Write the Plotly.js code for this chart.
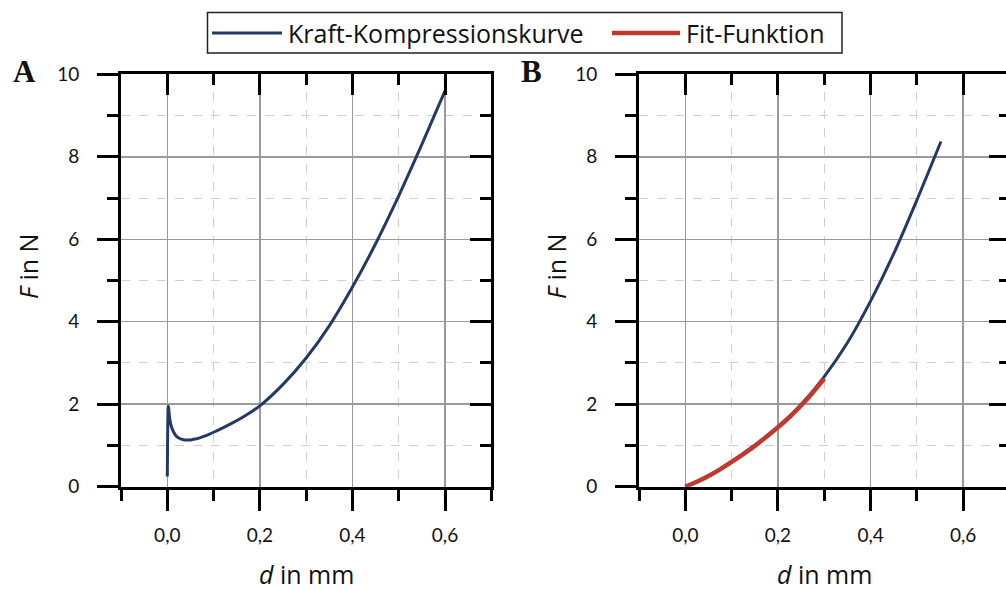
<!DOCTYPE html>
<html>
<head>
<meta charset="utf-8">
<script src="https://cdn.plot.ly/plotly-3.0.1.min.js"></script>
<style>
html,body{margin:0;padding:0;overflow:hidden;background:#fff;}
#chart{width:1010px;height:590px;}
</style>
</head>
<body>
<div id="chart"></div>
<script>
// Panel A: Kraft-Kompressionskurve
const dA = [0, 0.0005, 0.001, 0.0015, 0.002, 0.003, 0.004, 0.006, 0.008, 0.01, 0.013, 0.016, 0.02, 0.025, 0.03, 0.035, 0.04, 0.045, 0.05, 0.06, 0.07, 0.08, 0.09, 0.1, 0.12, 0.14, 0.16, 0.18, 0.2, 0.25, 0.3, 0.35, 0.4, 0.45, 0.5, 0.55, 0.6];
const fA = [0.25, 0.9, 1.5, 1.85, 1.95, 1.9, 1.78, 1.6, 1.49, 1.42, 1.34, 1.28, 1.22, 1.18, 1.155, 1.14, 1.132, 1.13, 1.135, 1.155, 1.185, 1.225, 1.27, 1.32, 1.425, 1.54, 1.665, 1.805, 1.96, 2.48, 3.12, 3.9, 4.84, 5.89, 7.05, 8.3, 9.6];
// Panel B: Kraft-Kompressionskurve
const dB = [0, 0.05, 0.1, 0.15, 0.2, 0.25, 0.3, 0.35, 0.4, 0.45, 0.5, 0.552];
const fB = [0, 0.26, 0.60, 0.99, 1.44, 1.99, 2.67, 3.49, 4.5, 5.65, 6.95, 8.37];
// Panel B: Fit-Funktion
const dFit = [0, 0.025, 0.05, 0.075, 0.1, 0.125, 0.15, 0.175, 0.2, 0.225, 0.25, 0.275, 0.3];
const fFit = [0, 0.12, 0.26, 0.42, 0.60, 0.79, 0.99, 1.21, 1.44, 1.69, 1.97, 2.28, 2.62];

const seriesNames = ['Kraft-Kompressionskurve', 'Fit-Funktion'];
const panelLabels = ['A', 'B'];
const xTitle = '<i>d</i> in mm';
const yTitle = '<i>F</i> in N';

const BLUE = '#243a64', RED = '#c0392f';
const FONT = 'Lato, "Open Sans", sans-serif';
const TFONT = '"Open Sans", Lato, sans-serif';
const W = 1010, H = 590;
const px = v => v / W, py = v => 1 - v / H;

const yDom = [(H - 486.7) / H, (H - 74.3) / H];
const xDomA = [121 / W, 491.3 / W];
const xDomB = [639 / W, 1009.5 / W];

function baseX(dom, anchor) {
  return {
    domain: dom, anchor: anchor, range: [-0.1, 0.7], tick0: 0, dtick: 0.2,
    tickformat: '.1f', ticks: 'outside', ticklen: 21, tickwidth: 3, tickcolor: '#000',
    showline: true, linewidth: 3, linecolor: '#000', zeroline: false,
    showgrid: true, gridcolor: '#9a9a9a', gridwidth: 1.5,
    tickfont: {family: FONT, size: 19, color: '#111'}, ticklabelstandoff: 8,
    minor: {tick0: 0, dtick: 0.1, ticks: 'outside', ticklen: 11, tickwidth: 3, tickcolor: '#000',
            showgrid: true, gridcolor: '#cfcfcf', gridwidth: 1, griddash: 'dash'},
    fixedrange: true
  };
}
function baseY(dom, anchor) {
  return {
    domain: dom, anchor: anchor, range: [0, 10], tick0: 0, dtick: 2,
    ticks: 'outside', ticklen: 21, tickwidth: 3, tickcolor: '#000',
    showline: true, linewidth: 3, linecolor: '#000', zeroline: false,
    showgrid: true, gridcolor: '#9a9a9a', gridwidth: 1.5,
    tickfont: {family: FONT, size: 19, color: '#111'}, ticklabelstandoff: 14,
    minor: {tick0: 0, dtick: 1, ticks: 'outside', ticklen: 11, tickwidth: 3, tickcolor: '#000',
            showgrid: true, gridcolor: '#cfcfcf', gridwidth: 1, griddash: 'dash'},
    fixedrange: true
  };
}
function mirrorX(over, anchor) {
  return {
    overlaying: over, anchor: anchor, side: 'top', range: [-0.1, 0.7], tick0: 0, dtick: 0.2,
    ticks: 'inside', ticklen: 21, tickwidth: 3, tickcolor: '#000', showticklabels: false,
    showline: true, linewidth: 3, linecolor: '#000', showgrid: false, zeroline: false,
    minor: {tick0: 0, dtick: 0.1, ticks: 'inside', ticklen: 11, tickwidth: 3, tickcolor: '#000', showgrid: false},
    fixedrange: true
  };
}
function mirrorY(over, anchor) {
  return {
    overlaying: over, anchor: anchor, side: 'right', range: [0, 10], tick0: 0, dtick: 2,
    ticks: 'inside', ticklen: 21, tickwidth: 3, tickcolor: '#000', showticklabels: false,
    showline: true, linewidth: 3, linecolor: '#000', showgrid: false, zeroline: false,
    minor: {tick0: 0, dtick: 1, ticks: 'inside', ticklen: 11, tickwidth: 3, tickcolor: '#000', showgrid: false},
    fixedrange: true
  };
}

const traces = [
  {x: dA, y: fA, xaxis: 'x', yaxis: 'y', mode: 'lines', name: seriesNames[0],
   line: {color: BLUE, width: 3, shape: 'spline', smoothing: 0.6}, showlegend: false},
  {x: dB, y: fB, xaxis: 'x2', yaxis: 'y2', mode: 'lines', name: seriesNames[0],
   line: {color: BLUE, width: 3, shape: 'spline', smoothing: 0.8}, showlegend: false},
  {x: dFit, y: fFit, xaxis: 'x2', yaxis: 'y2', mode: 'lines', name: seriesNames[1],
   line: {color: RED, width: 4.5, shape: 'spline', smoothing: 0.8}, showlegend: false},
  // empty traces so the mirror axes are drawn
  {x: [], y: [], xaxis: 'x3', yaxis: 'y3', mode: 'lines', showlegend: false, hoverinfo: 'skip'},
  {x: [], y: [], xaxis: 'x4', yaxis: 'y4', mode: 'lines', showlegend: false, hoverinfo: 'skip'}
];

const ann = [];
const shapes = [];
// axis titles
[[xDomA, 28], [xDomB, 556]].forEach(([dom, yx], i) => {
  ann.push({xref: 'paper', yref: 'paper', x: (dom[0] + dom[1]) / 2, y: py(593), xanchor: 'center', yanchor: 'bottom',
            text: xTitle, showarrow: false, font: {family: TFONT, size: 25, color: '#111'}});
  ann.push({xref: 'paper', yref: 'paper', x: px(yx), y: py(267), xanchor: 'center', yanchor: 'middle',
            text: yTitle, textangle: -90, showarrow: false, font: {family: TFONT, size: 25, color: '#111'}});
});
// panel labels
[[11, panelLabels[0]], [519, panelLabels[1]]].forEach(([x, t]) => {
  ann.push({xref: 'paper', yref: 'paper', x: px(x), y: py(72), xanchor: 'left', yanchor: 'middle',
            text: '<b>' + t + '</b>', showarrow: false,
            font: {family: '"Liberation Serif", "DejaVu Serif", serif', size: 31, color: '#111'}});
});
// manual legend
shapes.push({type: 'rect', xref: 'paper', yref: 'paper', x0: px(207.5), x1: px(842), y0: py(12.5), y1: py(53),
             line: {color: '#222', width: 1.5}, fillcolor: 'rgba(0,0,0,0)'});
shapes.push({type: 'line', xref: 'paper', yref: 'paper', x0: px(212), x1: px(282), y0: py(33), y1: py(33),
             line: {color: BLUE, width: 3}});
shapes.push({type: 'line', xref: 'paper', yref: 'paper', x0: px(612), x1: px(680), y0: py(33), y1: py(33),
             line: {color: RED, width: 4.5}});
ann.push({xref: 'paper', yref: 'paper', x: px(286), y: py(33), xanchor: 'left', yanchor: 'middle',
          text: seriesNames[0], showarrow: false, font: {family: TFONT, size: 25, color: '#111'}});
ann.push({xref: 'paper', yref: 'paper', x: px(684), y: py(33), xanchor: 'left', yanchor: 'middle',
          text: seriesNames[1], showarrow: false, font: {family: TFONT, size: 25, color: '#111'}});

const layout = {
  width: W, height: H, margin: {l: 0, r: 0, t: 0, b: 0, pad: 0},
  paper_bgcolor: '#fff', plot_bgcolor: 'rgba(0,0,0,0)',
  separators: ',.', showlegend: false, hovermode: false,
  xaxis: baseX(xDomA, 'y'), yaxis: baseY(yDom, 'x'),
  xaxis2: baseX(xDomB, 'y2'), yaxis2: baseY(yDom, 'x2'),
  xaxis3: mirrorX('x', 'y3'), yaxis3: mirrorY('y', 'x3'),
  xaxis4: mirrorX('x2', 'y4'), yaxis4: mirrorY('y2', 'x4'),
  annotations: ann, shapes: shapes
};
layout.xaxis3.domain = xDomA; layout.yaxis3.domain = yDom;
layout.xaxis4.domain = xDomB; layout.yaxis4.domain = yDom;

Plotly.newPlot('chart', traces, layout, {staticPlot: true, displayModeBar: false});
</script>
</body>
</html>
